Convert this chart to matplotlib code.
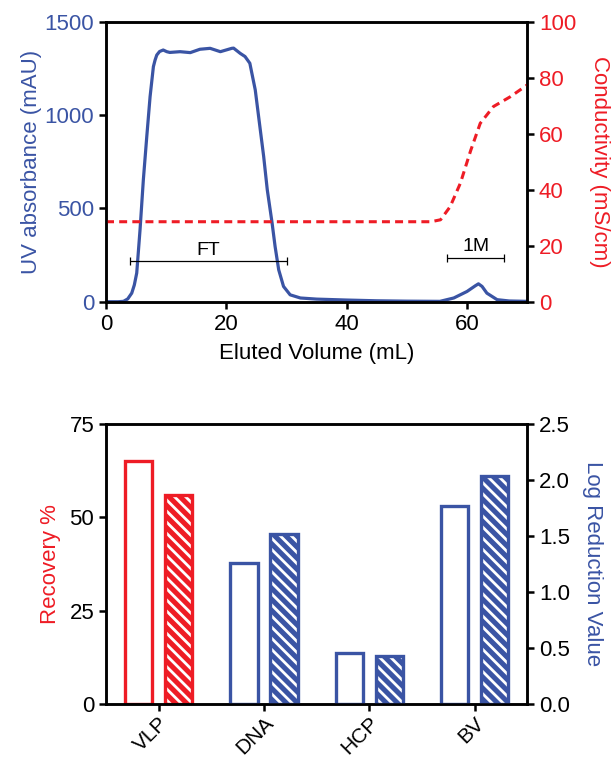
import numpy as np
import matplotlib.pyplot as plt

plt.rcParams['font.family'] = ['Liberation Sans', 'DejaVu Sans']
plt.rcParams['font.size'] = 16
plt.rcParams['hatch.linewidth'] = 2.0

BLUE = '#3a54a4'
RED = '#ee1c25'

# chromatogram: UV absorbance (mAU)
uv_x = [0, 2, 2.9, 3.6, 4.27, 4.7, 5.1, 5.65, 6.2, 6.77, 7.32, 7.87, 8.15, 8.43, 8.9, 9.5,
        10.1, 10.6, 12.3, 14.0, 15.6, 17.3, 19.0, 20.9, 21.2, 22.3, 23.1, 23.9, 24.8,
        25.5, 26.2, 26.8, 27.6, 28.1, 28.7, 29.5, 30.6, 32.3, 35, 40, 45, 50,
        55.5, 57.8, 60, 61.4, 61.9, 62.5, 63.3, 65, 67, 70]
uv_y = [0, 0, 2, 15, 46, 90, 154, 386, 654, 886, 1100, 1261, 1296, 1323, 1342, 1350,
        1341, 1337, 1341, 1336, 1354, 1359, 1341, 1359, 1360, 1332, 1315, 1279, 1136,
        957, 779, 600, 422, 296, 171, 82, 37, 20, 14, 9, 5, 3,
        2, 20, 55, 86, 96, 82, 46, 11, 4, 2]

# conductivity (mS/cm)
cond_x = [0, 20, 40, 54, 55.6, 57.2, 58.9, 60.6, 62.2, 64.4, 67.2, 70]
cond_y = [28.6, 28.6, 28.6, 28.6, 29.3, 34, 42.4, 54, 63.8, 69.8, 73.3, 77.5]

# fraction brackets
fractions = ['FT', '1M']
frac_lo = [4.0, 56.7]
frac_hi = [30.0, 66.2]
frac_y = [216, 236]

# recovery / log reduction
categories = ['VLP', 'DNA', 'HCP', 'BV']
recovery_open = [65]
recovery_hatch = [56]
lrv_open = [1.26, 0.45, 1.77]
lrv_hatch = [1.52, 0.43, 2.04]

fig = plt.figure(figsize=(6.13, 7.6), dpi=100)

def style_spines(ax):
    for s in ax.spines.values():
        s.set_linewidth(1.8)
    ax.tick_params(width=1.8, length=5, direction='out', labelsize=16)

# top panel
ax1 = fig.add_axes([0.173, 0.603, 0.687, 0.368])
ax1.plot(uv_x, uv_y, color=BLUE, lw=2.3)
ax1.set_xlim(0, 70)
ax1.set_ylim(0, 1500)
ax1.set_xticks([0, 20, 40, 60])
ax1.set_yticks([0, 500, 1000, 1500])
ax1.set_xlabel('Eluted Volume (mL)', fontsize=16, labelpad=6)
ax1.set_ylabel('UV absorbance (mAU)', color=BLUE, fontsize=16, labelpad=2)
ax1.tick_params(axis='y', labelcolor=BLUE)
style_spines(ax1)
for name, lo, hi, yv in zip(fractions, frac_lo, frac_hi, frac_y):
    ax1.errorbar((lo + hi) / 2, yv, xerr=(hi - lo) / 2, color='black', lw=0.9,
                 capsize=3, capthick=0.9)
    ax1.text((lo + hi) / 2, yv + 12, name, ha='center', va='bottom', fontsize=14)

ax2 = ax1.twinx()
ax2.plot(cond_x, cond_y, color=RED, lw=2.2, dashes=(2.6, 1.7))
ax2.set_ylim(0, 100)
ax2.set_yticks([0, 20, 40, 60, 80, 100])
ax2.set_ylabel('Conductivity (mS/cm)', color=RED, rotation=270, labelpad=24, fontsize=16)
ax2.tick_params(axis='y', labelcolor=RED)
style_spines(ax2)

# bottom panel
ax3 = fig.add_axes([0.173, 0.074, 0.687, 0.368])
ax4 = ax3.twinx()
pos = np.arange(len(categories))
off = 0.19
w = 0.26

def draw_bars(ax, xs, vals, color, hatched):
    if hatched:
        ax.bar(xs, vals, w, facecolor=color, edgecolor='white', hatch='\\\\\\', lw=0)
    ax.bar(xs, vals, w, facecolor='none' if hatched else 'white', edgecolor=color, lw=2.4)

draw_bars(ax3, pos[:1] - off, recovery_open, RED, False)
draw_bars(ax3, pos[:1] + off, recovery_hatch, RED, True)
draw_bars(ax4, pos[1:] - off, lrv_open, BLUE, False)
draw_bars(ax4, pos[1:] + off, lrv_hatch, BLUE, True)

ax3.set_xlim(-0.5, 3.5)
ax3.set_ylim(0, 75)
ax3.set_yticks([0, 25, 50, 75])
ax3.set_xticks(pos)
ax3.set_xticklabels(categories, rotation=45, ha='right', rotation_mode='anchor', fontsize=15)
ax3.tick_params(axis='x', pad=2)
ax3.set_ylabel('Recovery %', color=RED, fontsize=16, labelpad=6)
style_spines(ax3)
ax3.tick_params(axis='x', labelsize=15)

ax4.set_ylim(0, 2.5)
ax4.set_yticks([0, 0.5, 1.0, 1.5, 2.0, 2.5])
ax4.set_yticklabels(['0.0', '0.5', '1.0', '1.5', '2.0', '2.5'])
ax4.set_ylabel('Log Reduction Value', color=BLUE, rotation=270, labelpad=24, fontsize=16)
style_spines(ax4)

fig.savefig('out.png', dpi=100)
